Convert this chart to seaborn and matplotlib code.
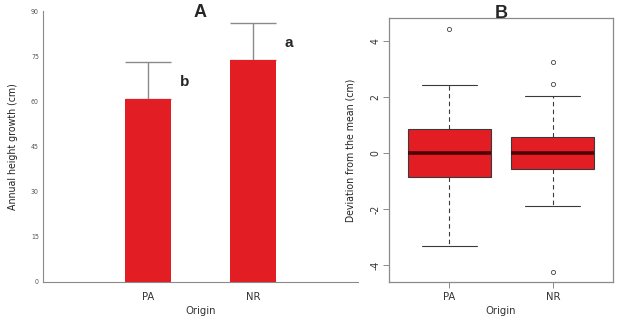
import numpy as np
import pandas as pd
import matplotlib
matplotlib.use("Agg")
import matplotlib.pyplot as plt
from matplotlib import font_manager
import seaborn as sns

# ---- data ----
origins = ["PA", "NR"]
mean_growth = [60.8, 73.6]          # annual height growth (cm)
sd_growth = [12.4, 12.5]            # upper error bar length
letters = ["b", "a"]

# deviation from the mean (cm), values chosen to reproduce the box statistics
dev_pa = [-3.33, -2.0, -0.86, -0.4, 0.0, 0.4, 0.88, 2.45, 4.44]
dev_nr = [-4.23, -1.9, -1.0, -0.56, -0.3, -0.1, 0.0, 0.1, 0.3, 0.57, 2.05, 2.47, 3.25]

RED = "#E31D24"
GREY = "#8a8a8a"

sns.set_theme(style="white")

# narrow font if one is installed
fonts = font_manager.fontManager.ttflist
names = {f.name for f in fonts}
stretch = "normal"
if "Liberation Sans Narrow" in names:
    plt.rcParams["font.family"] = ["Liberation Sans Narrow", "DejaVu Sans"]
elif any(f.name == "DejaVu Sans" and f.stretch == "condensed" for f in fonts):
    plt.rcParams["font.family"] = ["DejaVu Sans"]
    stretch = "condensed"
else:
    plt.rcParams["font.family"] = ["Roboto", "DejaVu Sans"]
plt.rcParams["font.stretch"] = stretch
plt.rcParams["axes.unicode_minus"] = False

fig = plt.figure(figsize=(6.22, 3.24), dpi=100)
ax_a = fig.add_axes([43 / 622, 1 - 282 / 324, (358 - 43) / 622, (282 - 11) / 324])
ax_b = fig.add_axes([389 / 622, 1 - 282 / 324, (613 - 389) / 622, (282 - 18) / 324])

# ---- Panel A: bar chart ----
bar_df = pd.DataFrame({"Origin": origins, "growth": mean_growth})
sns.barplot(data=bar_df, x="Origin", y="growth", color=RED, saturation=1,
            width=0.44, errorbar=None, ax=ax_a, zorder=3, edgecolor=RED, linewidth=0)
ax_a.errorbar([0, 1], mean_growth, yerr=[[0, 0], sd_growth], fmt="none",
              ecolor=GREY, elinewidth=1, capsize=16.5, capthick=1, zorder=2)
# significance letters to the right of each error bar
for i, (m, s, lab) in enumerate(zip(mean_growth, sd_growth, letters)):
    ax_a.text(i + 0.3, m + 0.45 * s, lab,
              fontsize=11, fontweight="bold", ha="left", va="center",
              family=["Liberation Sans", "DejaVu Sans"], stretch="normal")

ax_a.set_xlim(-1, 2)
ax_a.set_ylim(0, 90)
ax_a.set_yticks(np.arange(0, 91, 15))
ax_a.tick_params(axis="y", labelsize=5, length=2, width=0.6, colors=GREY,
                 labelcolor="#555555", pad=1)
ax_a.tick_params(axis="x", labelsize=8, length=4, width=0.8, colors="#333333", pad=3)
for side in ["top", "right"]:
    ax_a.spines[side].set_visible(False)
for side in ["left", "bottom"]:
    ax_a.spines[side].set_color(GREY)
    ax_a.spines[side].set_linewidth(0.8)
ax_a.set_xlabel("Origin", fontsize=8, color="#333333", labelpad=3)
ax_a.set_ylabel("Annual height growth (cm)", fontsize=7.6, color="#222222", labelpad=9)
ax_a.set_title("A", fontsize=13, fontweight="bold", pad=-4,
               family=["Liberation Sans", "DejaVu Sans"], stretch="normal")

# ---- Panel B: boxplot ----
box_df = pd.DataFrame({
    "Origin": ["PA"] * len(dev_pa) + ["NR"] * len(dev_nr),
    "dev": dev_pa + dev_nr,
})
sns.boxplot(data=box_df, x="Origin", y="dev", order=origins, color=RED,
            saturation=1, width=0.8, linecolor="#3a3a3a", linewidth=0.8,
            whis=1.5, ax=ax_b, capwidths=0.53,
            whiskerprops=dict(linestyle=(0, (4, 3)), color="#3a3a3a"),
            medianprops=dict(color="#4e0505", linewidth=2.6),
            flierprops=dict(marker="o", markersize=3, markerfacecolor="none",
                            markeredgecolor="#444444", markeredgewidth=0.6))

ax_b.set_xlim(-0.58, 1.58)
ax_b.set_ylim(-4.6, 4.83)
ax_b.set_yticks([-4, -2, 0, 2, 4])
ax_b.tick_params(axis="y", labelsize=7.5, length=4, width=0.7, colors=GREY,
                 labelcolor="#333333", labelrotation=90, pad=2, left=True)
ax_b.tick_params(axis="x", labelsize=8, length=4, width=0.7, colors=GREY,
                 labelcolor="#333333", pad=3, bottom=True)
for lab in ax_b.get_yticklabels():
    lab.set_va("center")
for side in ["top", "right", "left", "bottom"]:
    ax_b.spines[side].set_visible(True)
    ax_b.spines[side].set_color(GREY)
    ax_b.spines[side].set_linewidth(0.9)
ax_b.set_xlabel("Origin", fontsize=8, color="#333333", labelpad=3)
ax_b.set_ylabel("Deviation from the mean (cm)", fontsize=7.6, color="#222222", labelpad=11)
ax_b.set_title("B", fontsize=13, fontweight="bold", pad=0,
               family=["Liberation Sans", "DejaVu Sans"], stretch="normal")

fig.savefig("out.png", dpi=100)
